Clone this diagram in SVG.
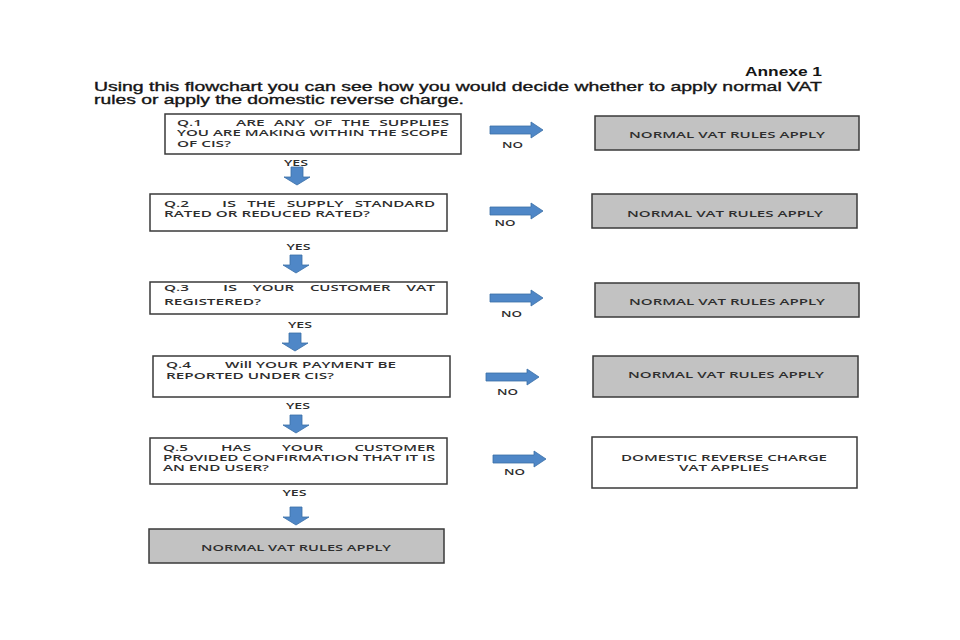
<svg xmlns="http://www.w3.org/2000/svg" width="960" height="640" viewBox="0 0 960 640">
<style>
.box{fill:#ffffff;stroke:#3a3a3a;stroke-width:1.5}
.gray{fill:#c2c2c2;stroke:#3a3a3a;stroke-width:1.5}
.t{font-family:"Open Sans","Liberation Sans",sans-serif;font-weight:600;font-size:9.3px;fill:#2e2e2e}
.title{font-family:"Liberation Sans",Arial,sans-serif;font-size:13px;fill:#151515;stroke:#151515;stroke-width:0.35}
.ann{font-family:"Liberation Sans",Arial,sans-serif;font-size:12px;font-weight:700;fill:#151515}
.arr{fill:#4f87c7;stroke:#3a6ea6;stroke-width:0.8}
</style>
<defs>
<path id="darrow" d="M-6,0 H6 V10 H13 L0,18 L-13,10 H-6 Z"/>
<path id="rarrow" d="M0,-4 H41 V-8 L53,0 L41,8 V4 H0 Z"/>
</defs>
<rect width="960" height="640" fill="#ffffff"/>

<g id="header">
<text class="ann" x="745" y="75.5" textLength="77" lengthAdjust="spacingAndGlyphs">Annexe 1</text>
<text class="title" x="94" y="91" textLength="728" lengthAdjust="spacingAndGlyphs">Using this flowchart you can see how you would decide whether to apply normal VAT</text>
<text class="title" x="94" y="104" textLength="370" lengthAdjust="spacingAndGlyphs">rules or apply the domestic reverse charge.</text>
</g>

<g id="q1">
<rect class="box" x="165" y="114" width="296" height="40"/>
<text class="t" x="177" y="125.5" textLength="25" lengthAdjust="spacingAndGlyphs">Q.1</text>
<text class="t" x="236" y="125.5" textLength="28.7" lengthAdjust="spacingAndGlyphs">ARE</text>
<text class="t" x="273.9" y="125.5" textLength="30.8" lengthAdjust="spacingAndGlyphs">ANY</text>
<text class="t" x="313.9" y="125.5" textLength="18.4" lengthAdjust="spacingAndGlyphs">OF</text>
<text class="t" x="341.5" y="125.5" textLength="28.4" lengthAdjust="spacingAndGlyphs">THE</text>
<text class="t" x="379.2" y="125.5" textLength="69.8" lengthAdjust="spacingAndGlyphs">SUPPLIES</text>
<text class="t" x="177" y="136" textLength="271" lengthAdjust="spacingAndGlyphs">YOU ARE MAKING WITHIN THE SCOPE</text>
<text class="t" x="177" y="146.5" textLength="54" lengthAdjust="spacingAndGlyphs">OF CIS?</text>
</g>

<g id="q2">
<rect class="box" x="150" y="194" width="297" height="37"/>
<text class="t" x="164" y="206.5" textLength="25" lengthAdjust="spacingAndGlyphs">Q.2</text>
<text class="t" x="222" y="206.5" textLength="14.1" lengthAdjust="spacingAndGlyphs">IS</text>
<text class="t" x="247.2" y="206.5" textLength="28.4" lengthAdjust="spacingAndGlyphs">THE</text>
<text class="t" x="286.7" y="206.5" textLength="56.9" lengthAdjust="spacingAndGlyphs">SUPPLY</text>
<text class="t" x="354.8" y="206.5" textLength="80.2" lengthAdjust="spacingAndGlyphs">STANDARD</text>
<text class="t" x="164" y="217" textLength="206" lengthAdjust="spacingAndGlyphs">RATED OR REDUCED RATED?</text>
</g>

<g id="q3">
<rect class="box" x="150" y="282" width="297" height="32"/>
<text class="t" x="164" y="291" textLength="25" lengthAdjust="spacingAndGlyphs">Q.3</text>
<text class="t" x="223" y="291" textLength="14.1" lengthAdjust="spacingAndGlyphs">IS</text>
<text class="t" x="252.8" y="291" textLength="41.4" lengthAdjust="spacingAndGlyphs">YOUR</text>
<text class="t" x="309.9" y="291" textLength="80.6" lengthAdjust="spacingAndGlyphs">CUSTOMER</text>
<text class="t" x="406.2" y="291" textLength="28.8" lengthAdjust="spacingAndGlyphs">VAT</text>
<text class="t" x="164" y="304.5" textLength="97" lengthAdjust="spacingAndGlyphs">REGISTERED?</text>
</g>

<g id="q4">
<rect class="box" x="153" y="356" width="297" height="41"/>
<text class="t" x="166" y="367.5" textLength="25" lengthAdjust="spacingAndGlyphs">Q.4</text>
<text class="t" x="225" y="367.5" textLength="171" lengthAdjust="spacingAndGlyphs">Will YOUR PAYMENT BE</text>
<text class="t" x="166" y="378.5" textLength="168" lengthAdjust="spacingAndGlyphs">REPORTED UNDER CIS?</text>
</g>

<g id="q5">
<rect class="box" x="150" y="438" width="297" height="46"/>
<text class="t" x="163" y="450.5" textLength="25" lengthAdjust="spacingAndGlyphs">Q.5</text>
<text class="t" x="221" y="450.5" textLength="30.1" lengthAdjust="spacingAndGlyphs">HAS</text>
<text class="t" x="282" y="450.5" textLength="41.4" lengthAdjust="spacingAndGlyphs">YOUR</text>
<text class="t" x="354.4" y="450.5" textLength="80.6" lengthAdjust="spacingAndGlyphs">CUSTOMER</text>
<text class="t" x="163" y="460.5" textLength="272" lengthAdjust="spacingAndGlyphs">PROVIDED CONFIRMATION THAT IT IS</text>
<text class="t" x="163" y="471" textLength="106" lengthAdjust="spacingAndGlyphs">AN END USER?</text>
</g>

<g id="end-bottom">
<rect class="gray" x="149" y="529" width="295" height="34"/>
<text class="t" x="296" y="550.5" text-anchor="middle" textLength="190" lengthAdjust="spacingAndGlyphs">NORMAL VAT RULES APPLY</text>
</g>

<g id="r1">
<rect class="gray" x="595" y="116" width="264" height="34"/>
<text class="t" x="727" y="138" text-anchor="middle" textLength="196" lengthAdjust="spacingAndGlyphs">NORMAL VAT RULES APPLY</text>
</g>
<g id="r2">
<rect class="gray" x="592" y="194" width="265" height="34"/>
<text class="t" x="725" y="216.5" text-anchor="middle" textLength="196" lengthAdjust="spacingAndGlyphs">NORMAL VAT RULES APPLY</text>
</g>
<g id="r3">
<rect class="gray" x="595" y="283" width="264" height="34"/>
<text class="t" x="727" y="304.5" text-anchor="middle" textLength="196" lengthAdjust="spacingAndGlyphs">NORMAL VAT RULES APPLY</text>
</g>
<g id="r4">
<rect class="gray" x="593" y="356" width="265" height="41"/>
<text class="t" x="726" y="377.5" text-anchor="middle" textLength="196" lengthAdjust="spacingAndGlyphs">NORMAL VAT RULES APPLY</text>
</g>
<g id="r5">
<rect class="box" x="592" y="437" width="265" height="51"/>
<text class="t" x="724" y="460.5" text-anchor="middle" textLength="206" lengthAdjust="spacingAndGlyphs">DOMESTIC REVERSE CHARGE</text>
<text class="t" x="724" y="470.5" text-anchor="middle" textLength="90" lengthAdjust="spacingAndGlyphs">VAT APPLIES</text>
</g>

<g id="connectors">
<use href="#darrow" class="arr" x="297" y="167"/>
<use href="#darrow" class="arr" x="296" y="255"/>
<use href="#darrow" class="arr" x="295" y="333"/>
<use href="#darrow" class="arr" x="296" y="415"/>
<use href="#darrow" class="arr" x="296" y="507"/>
<use href="#rarrow" class="arr" x="490" y="130"/>
<use href="#rarrow" class="arr" x="490" y="211"/>
<use href="#rarrow" class="arr" x="490" y="298"/>
<use href="#rarrow" class="arr" x="486" y="377"/>
<use href="#rarrow" class="arr" x="493" y="459"/>
<text class="t" x="296" y="165.5" text-anchor="middle" textLength="24" lengthAdjust="spacingAndGlyphs">YES</text>
<text class="t" x="298.5" y="249.5" text-anchor="middle" textLength="24" lengthAdjust="spacingAndGlyphs">YES</text>
<text class="t" x="300" y="327.5" text-anchor="middle" textLength="24" lengthAdjust="spacingAndGlyphs">YES</text>
<text class="t" x="298" y="408.5" text-anchor="middle" textLength="24" lengthAdjust="spacingAndGlyphs">YES</text>
<text class="t" x="294.5" y="496" text-anchor="middle" textLength="24" lengthAdjust="spacingAndGlyphs">YES</text>
<text class="t" x="512.5" y="147.5" text-anchor="middle" textLength="21" lengthAdjust="spacingAndGlyphs">NO</text>
<text class="t" x="505" y="225.5" text-anchor="middle" textLength="21" lengthAdjust="spacingAndGlyphs">NO</text>
<text class="t" x="511.5" y="316.5" text-anchor="middle" textLength="21" lengthAdjust="spacingAndGlyphs">NO</text>
<text class="t" x="507.5" y="394.5" text-anchor="middle" textLength="21" lengthAdjust="spacingAndGlyphs">NO</text>
<text class="t" x="514.5" y="475" text-anchor="middle" textLength="21" lengthAdjust="spacingAndGlyphs">NO</text>
</g>
</svg>
